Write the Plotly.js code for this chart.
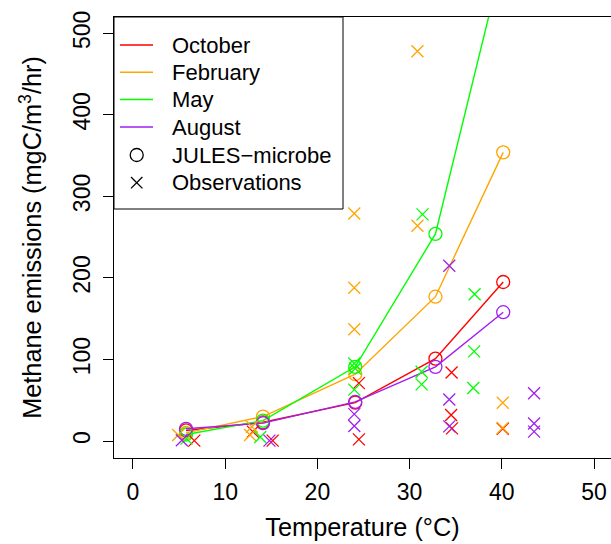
<!DOCTYPE html>
<html>
<head>
<meta charset="utf-8">
<script src="https://cdn.plot.ly/plotly-3.0.1.min.js"></script>
<style>html,body{margin:0;padding:0;background:#fff;}#chart{width:611px;height:544px;}</style>
</head>
<body>
<div id="chart"></div>
<script>
// Model (JULES-microbe) temperatures and emissions
var modelTemp = [5.75, 14.1, 24.1, 32.8, 40.15];
var modelOctober  = [13, 23, 47, 101, 195];
var modelFebruary = [10, 30, 82, 177, 354];
var modelMay      = [8, 25, 91, 254, 593];
var modelAugust   = [15, 22, 48, 91, 158];

// Observations
var obsOctoberT  = [6.65, 13.0, 15.15, 24.5, 24.5, 34.55, 34.5, 34.6, 40.1];
var obsOctoberV  = [0.5, 11.5, 0.5, 71, 2, 84, 32, 15.5, 15];
var obsFebruaryT = [4.9, 12.9, 12.7, 24.0, 24.0, 24.0, 30.85, 30.85, 40.1, 40.1];
var obsFebruaryV = [7.5, 17.5, 7.5, 279, 188, 137, 478, 264, 47, 16];
var obsMayT      = [5.8, 13.8, 24.0, 24.1, 24.0, 31.4, 31.3, 31.3, 37.05, 37.0, 36.9];
var obsMayV      = [3, 5, 95, 89, 63, 278, 85, 69.5, 180, 110, 65];
var obsAugustT   = [5.3, 14.8, 24.0, 24.0, 34.3, 34.3, 34.3, 43.5, 43.5, 43.5];
var obsAugustV   = [1, 0.5, 33, 18.5, 215, 51, 18, 58.5, 21.5, 11.5];

// Tick values
var xTicks = [0, 10, 20, 30, 40, 50];
var yTicks = [0, 100, 200, 300, 400, 500];

var months = ["October", "February", "May", "August"];
var legendExtra = ["JULES\u2212microbe", "Observations"];
var colors = ["#FF0000", "#FFA500", "#00FF00", "#A020F0"];
var modelVals = [modelOctober, modelFebruary, modelMay, modelAugust];
var obsT = [obsOctoberT, obsFebruaryT, obsMayT, obsAugustT];
var obsV = [obsOctoberV, obsFebruaryV, obsMayV, obsAugustV];

var traces = [];
for (var i = 0; i < 4; i++) {
  traces.push({x: modelTemp, y: modelVals[i], mode: "lines+markers", name: months[i] + " (JULES\u2212microbe)",
    line: {color: colors[i], width: 1.4}, showlegend: false,
    marker: {symbol: "circle-open", size: 13, color: colors[i], line: {width: 1.3, color: colors[i]}}});
}
for (var i = 0; i < 4; i++) {
  traces.push({x: obsT[i], y: obsV[i], mode: "markers", name: months[i] + " (Observations)", showlegend: false,
    marker: {symbol: "x-thin-open", size: 12, color: colors[i], line: {width: 1.3, color: colors[i]}}});
}

// Plot area in pixels (for legend placement)
var W = 611, H = 544, ML = 114, MR = 0, MT = 17, MB = 86;
function px(v) { return (v - ML) / (W - ML - MR); }
function py(v) { return (H - MB - v) / (H - MT - MB); }

var fnt = "Liberation Sans, Arial, Helvetica, sans-serif";
var shapes = [], annotations = [];
// legend box
shapes.push({type: "rect", xref: "paper", yref: "paper", x0: px(114), x1: px(343), y0: py(17), y1: py(209),
  line: {color: "#000", width: 1}, fillcolor: "#fff", layer: "above"});
var rows = [45, 72.3, 99.5, 127, 155, 182.7];
for (var i = 0; i < 4; i++) {
  shapes.push({type: "line", xref: "paper", yref: "paper", x0: px(120), x1: px(153), y0: py(rows[i]), y1: py(rows[i]),
    line: {color: colors[i], width: 1.6}, layer: "above"});
}
shapes.push({type: "circle", xref: "paper", yref: "paper", x0: px(130.2), x1: px(143.2), y0: py(rows[4] - 6.5), y1: py(rows[4] + 6.5),
  line: {color: "#000", width: 1.3}, layer: "above"});
shapes.push({type: "line", xref: "paper", yref: "paper", x0: px(131), x1: px(142.4), y0: py(rows[5] - 5.7), y1: py(rows[5] + 5.7),
  line: {color: "#000", width: 1.3}, layer: "above"});
shapes.push({type: "line", xref: "paper", yref: "paper", x0: px(131), x1: px(142.4), y0: py(rows[5] + 5.7), y1: py(rows[5] - 5.7),
  line: {color: "#000", width: 1.3}, layer: "above"});
var labels = months.concat(legendExtra);
for (var i = 0; i < labels.length; i++) {
  annotations.push({xref: "paper", yref: "paper", x: px(170), y: py(rows[i]), xanchor: "left", yanchor: "middle",
    text: labels[i], showarrow: false, font: {family: fnt, size: 22, color: "#000"}});
}

var layout = {
  width: W, height: H,
  margin: {l: ML, r: MR, t: MT, b: MB},
  paper_bgcolor: "#fff", plot_bgcolor: "#fff",
  font: {family: fnt, size: 23, color: "#000"},
  showlegend: false,
  shapes: shapes, annotations: annotations,
  xaxis: {range: [-2.06, 51.84], tickvals: xTicks,
    showgrid: false, zeroline: false, showline: true, linecolor: "#000", linewidth: 1,
    mirror: true, ticks: "outside", ticklen: 10, tickcolor: "#000", tickwidth: 1,
    tickfont: {family: fnt, size: 23}, ticklabelstandoff: 3, automargin: false,
    title: {text: "Temperature (\u00B0C)", font: {family: fnt, size: 25.3}, standoff: 14}},
  yaxis: {range: [-20.8, 520], tickvals: yTicks,
    showgrid: false, zeroline: false, showline: true, linecolor: "#000", linewidth: 1,
    mirror: false, ticks: "outside", ticklen: 10, tickcolor: "#000", tickwidth: 1,
    tickangle: -90, tickfont: {family: fnt, size: 23}, ticklabelstandoff: 4, automargin: false,
    title: {text: "Methane emissions (mgC/m<sup>3</sup>/hr)", font: {family: fnt, size: 25.3}, standoff: 19}}
};
Plotly.newPlot("chart", traces, layout, {displayModeBar: false, staticPlot: true});
</script>
</body>
</html>
